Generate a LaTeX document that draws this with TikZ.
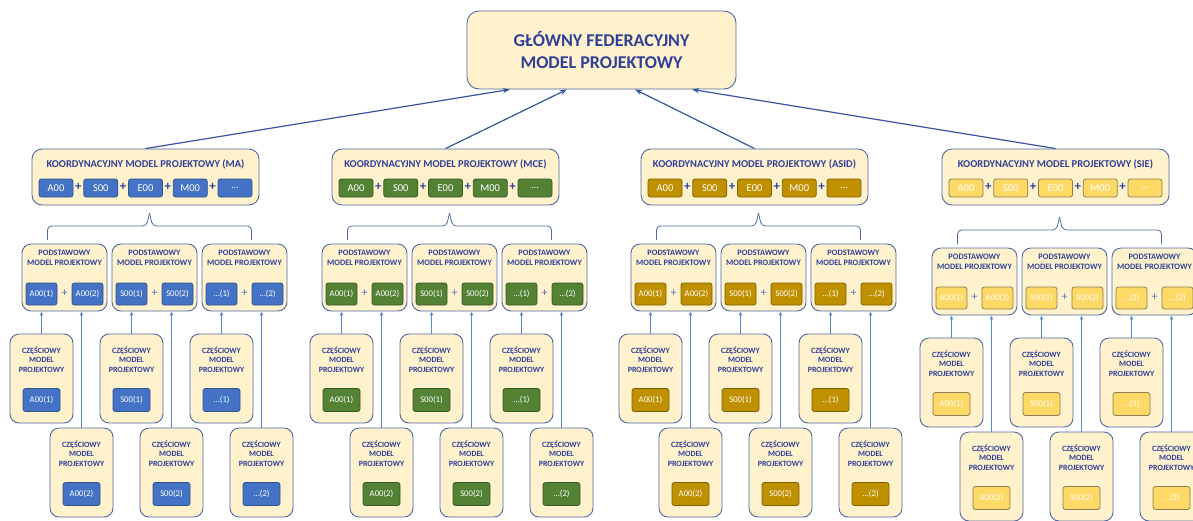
\documentclass[tikz,border=0pt]{standalone}
\usepackage{fontspec}
\setmainfont{Carlito}
\usepackage{tikz}
\usetikzlibrary{arrows.meta}
\definecolor{cream}{HTML}{FFF2CC}
\definecolor{frame}{HTML}{4F68A3}
\definecolor{ink}{HTML}{2F3F9A}
\definecolor{arrowblue}{HTML}{3654A0}
\definecolor{lineblue}{HTML}{5B86D0}
\definecolor{plusblue}{HTML}{5A70C0}
\definecolor{mafill}{HTML}{4472C4}
\definecolor{maedge}{HTML}{2F528F}
\definecolor{mcefill}{HTML}{548235}
\definecolor{mceedge}{HTML}{385723}
\definecolor{asidfill}{HTML}{BF9000}
\definecolor{asidedge}{HTML}{7F6000}
\definecolor{siefill}{HTML}{FFD966}
\definecolor{sieedge}{HTML}{8C7E55}
\newcommand\tridot{...}

\begin{document}
\begin{tikzpicture}[
  x=1pt, y=-1pt,
  panel/.style={draw=frame,fill=cream,line width=0.9pt,rounded corners=#1},
  panel/.default=10pt,
  bigtitle/.style={text=ink,align=center,font=\bfseries\fontsize{18}{22}\selectfont},
  midtitle/.style={text=ink,font=\bfseries\fontsize{10.5}{12}\selectfont},
  podtitle/.style={text=ink,align=center,font=\bfseries\fontsize{8.3}{10}\selectfont},
  parttitle/.style={text=ink,align=center,font=\bfseries\fontsize{8}{9.5}\selectfont},
  chip/.style={rounded corners=2.5pt,line width=0.8pt,text=white,inner sep=0pt,
               minimum width=34pt,minimum height=18pt,font=\fontsize{10.5}{12}\selectfont},
  smallchip/.style={chip,minimum width=31pt,minimum height=22pt,font=\fontsize{8.7}{10}\selectfont},
  partchip/.style={chip,minimum width=37pt,minimum height=23pt,font=\fontsize{8.7}{10}\selectfont},
  bigplus/.style={text=ink,inner sep=0pt,font=\bfseries\fontsize{13}{14}\selectfont},
  smallplus/.style={text=plusblue,inner sep=0pt,font=\fontsize{12}{13}\selectfont},
  arrow/.style={-{Stealth[length=7pt,width=5pt]},line width=1.2pt,draw=arrowblue},
  feed/.style={-{Latex[length=4pt,width=4pt]},line width=0.8pt,draw=lineblue},
  brace/.style={draw=frame,line width=0.8pt,rounded corners=4pt}
]
\useasboundingbox (0,0) rectangle (1193,520);
\node[panel=12pt,bigtitle,minimum width=269pt,minimum height=78pt] (main) at (601.5,50)
  {GŁÓWNY FEDERACYJNY\\MODEL PROJEKTOWY};
\foreach \g/\gx/\dy/\cf/\ce/\tag in {ma/145.5/0/mafill/maedge/MA,
    mce/445.5/0/mcefill/mceedge/MCE, asid/754.5/0/asidfill/asidedge/ASID,
    sie/1055.5/4/siefill/sieedge/SIE}{
  % koordynacyjny
  \node[panel,minimum width=227pt,minimum height=56pt] (k-\g) at (\gx,177) {};
  \node[midtitle] (kt-\g) at (\gx,164) {KOORDYNACYJNY MODEL PROJEKTOWY (\tag)};
  \foreach \i/\lab in {1/A00,2/S00,3/E00,4/M00,5/\tridot}
    \node[chip,fill=\cf,draw=\ce] (k-\g-\i) at (\gx+\i*44.75-134.25,188) {\lab};
  \foreach \i in {1,2,3,4}
    \node[bigplus] (kp-\g-\i) at (\gx+\i*44.75-111.875,187) {+};
  % brace
  \draw[brace] (\gx-98,240+\dy) -- (\gx-98,226+\dy) -- (\gx+1,226+\dy) -- (\gx+4,213+\dy);
  \draw[brace] (\gx+106,240+\dy) -- (\gx+106,226+\dy) -- (\gx+7,226+\dy) -- (\gx+4,213+\dy);
  % podstawowe + czesciowe
  \foreach \p/\lab/\px in {1/A00/-81,2/S00/9,3/\tridot/99}{
    \node[panel=9pt,minimum width=85pt,minimum height=67pt] (p-\g-\p) at (\gx+\px,277.5+\dy) {};
    \node[podtitle] (pt-\g-\p) at (\gx+\px,258+\dy) {PODSTAWOWY\\MODEL PROJEKTOWY};
    \node[smallchip,fill=\cf,draw=\ce] (pa-\g-\p) at (\gx+\px-23,294+\dy) {\lab(1)};
    \node[smallchip,fill=\cf,draw=\ce] (pb-\g-\p) at (\gx+\px+23,294+\dy) {\lab(2)};
    \node[smallplus] (pp-\g-\p) at (\gx+\px,293+\dy) {+};
    \node[panel=9pt,minimum width=63pt,minimum height=89pt] (c-\g-\p-1) at (\gx+\px-23,378.5+\dy) {};
    \node[parttitle] (ct-\g-\p-1) at (\gx+\px-23,359.5+\dy) {CZĘŚCIOWY\\MODEL\\PROJEKTOWY};
    \node[partchip,fill=\cf,draw=\ce] (cc-\g-\p-1) at (\gx+\px-23,400+\dy) {\lab(1)};
    \node[panel=9pt,minimum width=63pt,minimum height=89pt] (c-\g-\p-2) at (\gx+\px+17,472.5+\dy) {};
    \node[parttitle] (ct-\g-\p-2) at (\gx+\px+17,453.5+\dy) {CZĘŚCIOWY\\MODEL\\PROJEKTOWY};
    \node[partchip,fill=\cf,draw=\ce] (cc-\g-\p-2) at (\gx+\px+17,494+\dy) {\lab(2)};
    \draw[feed] (c-\g-\p-1.north) -- (c-\g-\p-1.north |- p-\g-\p.south);
    \draw[feed] (c-\g-\p-2.north) -- (c-\g-\p-2.north |- p-\g-\p.south);
  }
}
\foreach \g/\s in {ma/-91.5,mce/-34.5,asid/33.5,sie/90.5}
  \draw[arrow] (k-\g.north) -- ([xshift=\s pt]main.south);
\end{tikzpicture}
\end{document}
